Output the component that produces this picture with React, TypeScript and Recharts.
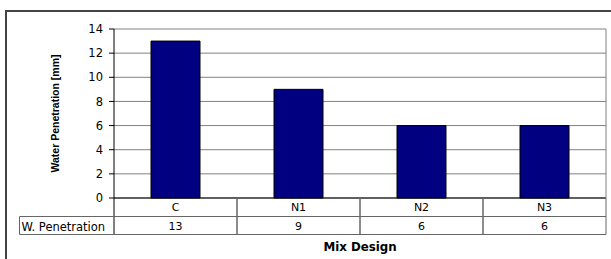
import React from 'react';
import { ComposedChart, Bar, XAxis, YAxis, CartesianGrid } from 'recharts';

const categories = ['C', 'N1', 'N2', 'N3'];
const penetration = [13, 9, 6, 6];
const yTicks = [0, 2, 4, 6, 8, 10, 12, 14];
const seriesName = 'W. Penetration';

const data = categories.map((c, i) => ({ cat: c, value: penetration[i] }));

const W = 611;
const H = 259;
const LEFT = 114;
const RIGHT_MARGIN = 0;
const RIGHT_AXIS = 5;
const CELL_W = (W - LEFT - RIGHT_MARGIN - RIGHT_AXIS) / categories.length;
const FONT = "'DejaVu Sans', sans-serif";
const LINE = '#666';

const TableTick = (props: any) => {
  const { x, y, payload, index } = props;
  const l = x - CELL_W / 2;
  const r = x + CELL_W / 2;
  const r1 = y + 18.5;
  const r2 = y + 36.5;
  return (
    <g>
      <line x1={l} y1={y} x2={l} y2={r2} stroke={index === 0 ? '#000' : LINE} />
      <line x1={r} y1={y} x2={r} y2={r2} stroke={LINE} />
      <line x1={l} y1={r1} x2={r} y2={r1} stroke={LINE} />
      <line x1={l} y1={r2} x2={r} y2={r2} stroke={LINE} />
      <text x={x} y={y + 9.5} textAnchor="middle" dominantBaseline="central" fontSize={11} fontFamily={FONT} fill="#000">
        {payload.value}
      </text>
      <text x={x} y={y + 28.5} textAnchor="middle" dominantBaseline="central" fontSize={11} fontFamily={FONT} fill="#000">
        {penetration[index]}
      </text>
      {index === 0 && (
        <g>
          <line x1={19.5} y1={r1} x2={l} y2={r1} stroke={LINE} />
          <line x1={19.5} y1={r2} x2={l} y2={r2} stroke={LINE} />
          <line x1={19.5} y1={r1} x2={19.5} y2={r2} stroke={LINE} />
          <text x={21.5} y={y + 28.5} textAnchor="start" dominantBaseline="central" fontSize={11.5} fontFamily={FONT} fill="#000">
            {seriesName}
          </text>
        </g>
      )}
    </g>
  );
};

export default function App() {
  return (
    <div style={{ position: 'absolute', left: 0, top: 0, width: W, height: H, background: '#fff', overflow: 'hidden' }}>
      <div
        style={{
          position: 'absolute',
          left: 5,
          top: 10,
          width: W - 5,
          height: H - 10,
          borderTop: '2px solid #444',
          borderLeft: '2px solid #444',
          boxSizing: 'border-box',
        }}
      />
      <div style={{ position: 'absolute', left: 0, top: 0 }}>
        <ComposedChart width={W} height={H} data={data} margin={{ top: 29, right: RIGHT_MARGIN, left: 0, bottom: 0 }}>
          <CartesianGrid yAxisId="left" horizontal vertical={false} stroke="#808080" />
          <XAxis
            dataKey="cat"
            interval={0}
            height={61}
            axisLine={{ stroke: '#000' }}
            tickLine={false}
            tickSize={0}
            tickMargin={0}
            tick={<TableTick />}
            label={{
              value: 'Mix Design',
              position: 'insideBottom',
              offset: 8,
              style: { fontFamily: FONT, fontWeight: 'bold', fontSize: 11.8, fill: '#000' },
            }}
          />
          <YAxis
            yAxisId="left"
            width={LEFT}
            domain={[0, 14]}
            ticks={yTicks}
            interval={0}
            axisLine={{ stroke: '#000' }}
            tickLine={{ stroke: '#000' }}
            tickSize={5}
            tickMargin={6}
            tick={{ fill: '#000', fontSize: 11.5, fontFamily: FONT }}
            label={{
              value: 'Water Penetration [mm]',
              angle: -90,
              position: 'center',
              dx: -2,
              style: { fontFamily: "'Liberation Sans', Arial, sans-serif", fontWeight: 'bold', fontSize: 10.5, fill: '#000', textAnchor: 'middle' },
            }}
          />
          <YAxis
            yAxisId="right"
            orientation="right"
            width={RIGHT_AXIS}
            tick={false}
            tickLine={false}
            axisLine={{ stroke: '#808080' }}
          />
          <Bar yAxisId="left" dataKey="value" fill="#000080" stroke="#000" strokeWidth={1} barSize={49} isAnimationActive={false} />
        </ComposedChart>
      </div>
    </div>
  );
}
